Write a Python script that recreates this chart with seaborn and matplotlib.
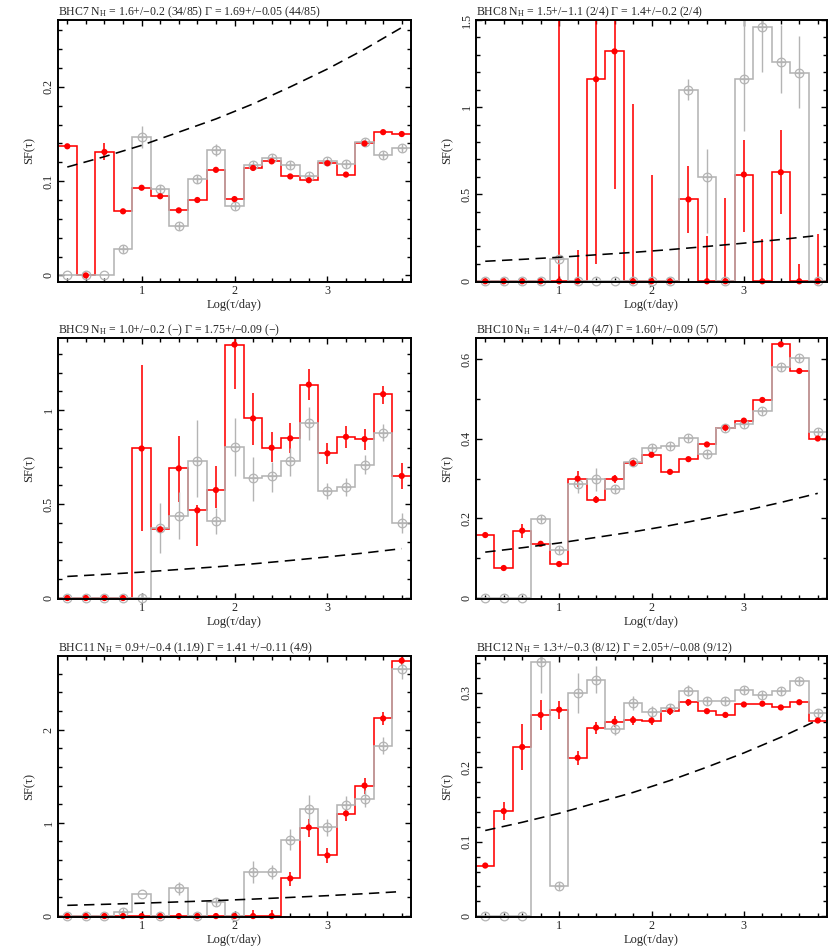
import numpy as np
import pandas as pd
import matplotlib
matplotlib.use("Agg")
import matplotlib.pyplot as plt
from matplotlib.ticker import MultipleLocator, FuncFormatter
import seaborn as sns

# ---------------- data ----------------
LOG_TAU = [0.2, 0.4, 0.6, 0.8, 1.0, 1.2, 1.4, 1.6, 1.8, 2.0,
           2.2, 2.4, 2.6, 2.8, 3.0, 3.2, 3.4, 3.6, 3.8]

MODEL_X = [0.2, 0.6, 1.0, 1.4, 1.8, 2.2, 2.6, 3.0, 3.4, 3.8]
MODEL_Y = [0.115, 0.126, 0.138, 0.152, 0.166, 0.182, 0.200, 0.219, 0.240, 0.263]

TITLES = [
    "BHC7 N$_\\mathrm{H}$ = 1.6+/\u22120.2 (34/85) \u0393 = 1.69+/\u22120.05 (44/85)",
    "BHC8 N$_\\mathrm{H}$ = 1.5+/\u22121.1 (2/4) \u0393 = 1.4+/\u22120.2 (2/4)",
    "BHC9 N$_\\mathrm{H}$ = 1.0+/\u22120.2 (\u2212) \u0393 = 1.75+/\u22120.09 (\u2212)",
    "BHC10 N$_\\mathrm{H}$ = 1.4+/\u22120.4 (4/7) \u0393 = 1.60+/\u22120.09 (5/7)",
    "BHC11 N$_\\mathrm{H}$ = 0.9+/\u22120.4 (1.1/9) \u0393 = 1.41 +/\u22120.11 (4/9)",
    "BHC12 N$_\\mathrm{H}$ = 1.3+/\u22120.3 (8/12) \u0393 = 2.05+/\u22120.08 (9/12)",
]

# BHC7
BHC7_RED = [0.137, 0.000, 0.131, 0.068, 0.093, 0.084, 0.069, 0.080, 0.112, 0.081,
            0.114, 0.121, 0.105, 0.101, 0.119, 0.107, 0.140, 0.152, 0.150]
BHC7_RED_ERR = [0.002, 0.0, 0.009, 0.002, 0.002, 0.002, 0.002, 0.002, 0.002, 0.002,
                0.002, 0.002, 0.002, 0.002, 0.002, 0.002, 0.002, 0.002, 0.002]
BHC7_GREY = [0.0, 0.0, 0.0, 0.028, 0.147, 0.092, 0.052, 0.102, 0.133, 0.074,
             0.117, 0.125, 0.117, 0.105, 0.121, 0.118, 0.142, 0.128, 0.135]
BHC7_GREY_ERR = [0.0, 0.0, 0.0, 0.003, 0.012, 0.004, 0.003, 0.004, 0.006, 0.003,
                 0.003, 0.003, 0.003, 0.003, 0.003, 0.003, 0.003, 0.003, 0.003]

# BHC8
BHC8_RED = [0.0, 0.0, 0.0, 0.0, 0.0, 0.0, 1.16, 1.32, 0.0, 0.0,
            0.0, 0.47, 0.0, 0.0, 0.613, 0.0, 0.626, 0.0, 0.0]
BHC8_RED_LO = [0.0, 0.0, 0.0, 0.0, 0.0, 0.0, 1.06, 0.79, 0.0, 0.0,
               0.0, 0.19, 0.0, 0.0, 0.33, 0.0, 0.24, 0.0, 0.0]
BHC8_RED_HI = [0.0, 0.0, 0.0, 0.0, 2.0, 0.18, 0.5, 0.4, 1.02, 0.61,
               0.0, 0.19, 0.26, 0.48, 0.2, 0.24, 0.24, 0.10, 0.27]
BHC8_GREY = [0.0, 0.0, 0.0, 0.0, 0.13, 0.0, 0.0, 0.0, 0.0, 0.0,
             0.0, 1.10, 0.60, 0.0, 1.162, 1.46, 1.26, 1.196, 0.0]
BHC8_GREY_LO = [0.0, 0.0, 0.0, 0.0, 0.01, 0.0, 0.0, 0.0, 0.0, 0.0,
                0.0, 0.06, 0.32, 0.0, 0.3, 0.26, 0.18, 0.2, 0.0]
BHC8_GREY_HI = [0.0, 0.0, 0.0, 0.0, 0.01, 0.0, 0.0, 0.0, 0.0, 0.0,
                0.0, 0.06, 0.16, 0.0, 0.4, 0.3, 0.21, 0.21, 0.0]

# BHC9
BHC9_RED = [0.0, 0.0, 0.0, 0.0, 0.796, 0.366, 0.69, 0.467, 0.575, 1.349,
            0.956, 0.80, 0.85, 1.136, 0.77, 0.858, 0.846, 1.085, 0.65]
BHC9_RED_LO = [0.0, 0.0, 0.0, 0.0, 0.44, 0.01, 0.177, 0.19, 0.094, 0.238,
               0.142, 0.075, 0.08, 0.083, 0.057, 0.062, 0.056, 0.05, 0.071]
BHC9_RED_HI = [0.0, 0.0, 0.0, 0.0, 0.443, 0.01, 0.172, 0.03, 0.13, 0.05,
               0.136, 0.085, 0.083, 0.085, 0.053, 0.059, 0.054, 0.042, 0.07]
BHC9_GREY = [0.0, 0.0, 0.0, 0.0, 0.0, 0.372, 0.439, 0.729, 0.412, 0.805,
             0.637, 0.65, 0.731, 0.929, 0.57, 0.593, 0.708, 0.88, 0.402]
BHC9_GREY_LO = [0.0, 0.0, 0.0, 0.0, 0.0, 0.13, 0.126, 0.19, 0.07, 0.155,
                0.118, 0.084, 0.08, 0.088, 0.044, 0.048, 0.048, 0.045, 0.057]
BHC9_GREY_HI = [0.0, 0.0, 0.0, 0.0, 0.02, 0.136, 0.127, 0.221, 0.066, 0.151,
                0.115, 0.076, 0.069, 0.089, 0.044, 0.047, 0.053, 0.046, 0.049]

# BHC10
BHC10_RED = [0.158, 0.075, 0.169, 0.136, 0.085, 0.300, 0.247, 0.300, 0.339, 0.360,
             0.317, 0.349, 0.386, 0.428, 0.446, 0.498, 0.638, 0.571, 0.401]
BHC10_RED_ERR = [0.003, 0.003, 0.018, 0.003, 0.003, 0.02, 0.009, 0.01, 0.005, 0.004,
                 0.003, 0.003, 0.003, 0.003, 0.003, 0.003, 0.003, 0.003, 0.003]
BHC10_GREY = [0.0, 0.0, 0.0, 0.199, 0.121, 0.287, 0.299, 0.274, 0.343, 0.378,
              0.381, 0.402, 0.362, 0.427, 0.438, 0.469, 0.580, 0.603, 0.417]
BHC10_GREY_ERR = [0.0, 0.0, 0.0, 0.006, 0.005, 0.023, 0.029, 0.008, 0.01, 0.007,
                  0.005, 0.005, 0.005, 0.005, 0.005, 0.005, 0.006, 0.006, 0.006]

# BHC11
BHC11_RED = [0.0, 0.0, 0.0, 0.0, 0.0, 0.0, 0.0, 0.0, 0.0, 0.0,
             0.0, 0.0, 0.404, 0.95, 0.65, 1.10, 1.40, 2.12, 2.74]
BHC11_RED_LO = [0.0, 0.0, 0.0, 0.0, 0.0, 0.0, 0.0, 0.0, 0.0, 0.0,
                0.0, 0.0, 0.084, 0.10, 0.08, 0.08, 0.086, 0.07, 0.05]
BHC11_RED_HI = [0.0, 0.0, 0.0, 0.05, 0.0, 0.0, 0.0, 0.0, 0.0, 0.0,
                0.07, 0.06, 0.07, 0.096, 0.075, 0.053, 0.086, 0.066, 0.06]
BHC11_GREY = [0.0, 0.0, 0.0, 0.046, 0.236, 0.0, 0.296, 0.0, 0.154, 0.0,
              0.468, 0.468, 0.821, 1.15, 0.957, 1.196, 1.26, 1.829, 2.65]
BHC11_GREY_LO = [0.0, 0.0, 0.0, 0.02, 0.0, 0.0, 0.071, 0.0, 0.04, 0.0,
                 0.118, 0.075, 0.114, 0.15, 0.097, 0.089, 0.09, 0.093, 0.104]
BHC11_GREY_HI = [0.0, 0.0, 0.0, 0.02, 0.0, 0.0, 0.072, 0.0, 0.04, 0.0,
                 0.125, 0.078, 0.108, 0.146, 0.089, 0.09, 0.097, 0.091, 0.09]

# BHC12
BHC12_RED = [0.068, 0.141, 0.227, 0.270, 0.277, 0.2125, 0.253, 0.261, 0.263, 0.2625,
             0.275, 0.287, 0.275, 0.270, 0.284, 0.285, 0.280, 0.287, 0.2625]
BHC12_RED_ERR = [0.002, 0.012, 0.031, 0.02, 0.012, 0.009, 0.008, 0.007, 0.006, 0.006,
                 0.005, 0.005, 0.003, 0.003, 0.003, 0.003, 0.003, 0.003, 0.003]
BHC12_GREY = [0.0, 0.0, 0.0, 0.341, 0.041, 0.299, 0.317, 0.2505, 0.286, 0.2745,
              0.279, 0.3027, 0.289, 0.288, 0.3036, 0.297, 0.302, 0.316, 0.273]
BHC12_GREY_LO = [0.0, 0.0, 0.0, 0.041, 0.003, 0.027, 0.017, 0.008, 0.009, 0.007,
                 0.005, 0.007, 0.005, 0.005, 0.004, 0.004, 0.004, 0.004, 0.005]
BHC12_GREY_HI = [0.0, 0.0, 0.0, 0.02, 0.003, 0.027, 0.018, 0.008, 0.009, 0.007,
                 0.005, 0.007, 0.005, 0.005, 0.004, 0.004, 0.004, 0.004, 0.005]

# ---------------- style ----------------
RED = "#ff0000"
GREY = "#b4b4b4"
sns.set_theme(style="ticks")
plt.rcParams["font.family"] = ["Liberation Serif", "DejaVu Serif"]
plt.rcParams["mathtext.fontset"] = "custom"
plt.rcParams["mathtext.rm"] = "Liberation Serif"
plt.rcParams["mathtext.it"] = "Liberation Serif:italic"
plt.rcParams["axes.unicode_minus"] = True

FS = 8.3
TICK_FS = 8.7

PANELS = [
    (BHC7_RED, BHC7_RED_ERR, BHC7_RED_ERR, BHC7_GREY, BHC7_GREY_ERR, BHC7_GREY_ERR,
     (-0.007, 0.271), 0.1, 0.02),
    (BHC8_RED, BHC8_RED_LO, BHC8_RED_HI, BHC8_GREY, BHC8_GREY_LO, BHC8_GREY_HI,
     (-0.004, 1.5), 0.5, 0.1),
    (BHC9_RED, BHC9_RED_LO, BHC9_RED_HI, BHC9_GREY, BHC9_GREY_LO, BHC9_GREY_HI,
     (-0.005, 1.384), 0.5, 0.1),
    (BHC10_RED, BHC10_RED_ERR, BHC10_RED_ERR, BHC10_GREY, BHC10_GREY_ERR, BHC10_GREY_ERR,
     (-0.003, 0.654), 0.2, 0.1),
    (BHC11_RED, BHC11_RED_LO, BHC11_RED_HI, BHC11_GREY, BHC11_GREY_LO, BHC11_GREY_HI,
     (-0.01, 2.79), 1.0, 0.2),
    (BHC12_RED, BHC12_RED_ERR, BHC12_RED_ERR, BHC12_GREY, BHC12_GREY_LO, BHC12_GREY_HI,
     (-0.001, 0.349), 0.1, 0.02),
]

fig = plt.figure(figsize=(8.30, 9.49), dpi=100)
W, H = 830.0, 949.0
col_px = [(58, 411), (476, 827)]
row_px = [(20, 282), (338, 599), (656, 917)]

centers = np.asarray(LOG_TAU)
half = np.diff(centers).mean() / 2.0
edges = np.concatenate([centers - half, [centers[-1] + half]])
fmt = FuncFormatter(lambda v, p: "%g" % round(v, 6))

for i, (red, rlo, rhi, grey, glo, ghi, ylim, ymaj, ymin) in enumerate(PANELS):
    r, c = divmod(i, 2)
    x0, x1 = col_px[c]
    y0, y1 = row_px[r]
    ax = fig.add_axes([x0 / W, 1 - y1 / H, (x1 - x0) / W, (y1 - y0) / H])

    red = np.asarray(red, float)
    grey = np.asarray(grey, float)
    rlo, rhi = np.asarray(rlo, float), np.asarray(rhi, float)
    glo, ghi = np.asarray(glo, float), np.asarray(ghi, float)

    # red histogram + error bars
    ax.stairs(red, edges, baseline=None, color=RED, lw=1.15, zorder=2)
    ax.errorbar(centers, red, yerr=[rlo, rhi], fmt="none", ecolor=RED,
                elinewidth=1.15, capsize=0, zorder=2)
    # grey histogram + error bars
    ax.stairs(grey, edges, baseline=None, color=GREY, lw=1.15, zorder=3)
    ax.errorbar(centers, grey, yerr=[glo, ghi], fmt="none", ecolor=GREY,
                elinewidth=1.0, capsize=0, zorder=3)

    df = pd.DataFrame({"log_tau": centers, "red": red, "grey": grey,
                       "gerr": glo + ghi})
    # grey open circles (with cross where an error is measured)
    ax.plot(df["log_tau"], df["grey"], ls="none", marker="o", ms=6.2,
            mfc="none", mec=GREY, mew=0.9, zorder=4, clip_on=False)
    sub = df[df["gerr"] > 0]
    ax.plot(sub["log_tau"], sub["grey"], ls="none", marker="+", ms=6.2,
            mec=GREY, mew=0.9, zorder=4, clip_on=False)
    # red filled dots
    sns.scatterplot(data=df, x="log_tau", y="red", color=RED, s=20,
                    edgecolor="none", linewidth=0, ax=ax, zorder=5, clip_on=False)
    # model curve
    mdf = pd.DataFrame({"x": MODEL_X, "y": MODEL_Y})
    sns.lineplot(data=mdf, x="x", y="y", color="black", lw=1.15, ax=ax,
                 zorder=6, linestyle=(0, (6.5, 4.0)))

    ax.set_xlim(0.1, 3.9)
    ax.set_ylim(*ylim)
    ax.xaxis.set_major_locator(MultipleLocator(1))
    ax.xaxis.set_minor_locator(MultipleLocator(0.2))
    ax.yaxis.set_major_locator(MultipleLocator(ymaj))
    ax.yaxis.set_minor_locator(MultipleLocator(ymin))
    ax.xaxis.set_major_formatter(fmt)
    ax.yaxis.set_major_formatter(fmt)
    ax.tick_params(which="both", direction="in", top=True, right=True,
                   width=1.0, color="black", labelsize=TICK_FS, pad=2.5)
    ax.tick_params(which="major", length=4.2)
    ax.tick_params(which="minor", length=3.0)
    ax.tick_params(axis="y", labelrotation=90)
    for lab in ax.get_yticklabels():
        lab.set_va("center")
    for sp in ax.spines.values():
        sp.set_linewidth(1.4)
        sp.set_color("black")
        sp.set_zorder(10)

    ax.set_xlabel("Log(\u03c4/day)", fontsize=FS + 0.7, labelpad=1.0)
    ax.set_ylabel("SF(\u03c4)", fontsize=FS + 0.7, labelpad=5)
    ax.set_title(TITLES[i], loc="left", fontsize=FS + 0.2, pad=3.5)

fig.savefig("out.png", dpi=100)
